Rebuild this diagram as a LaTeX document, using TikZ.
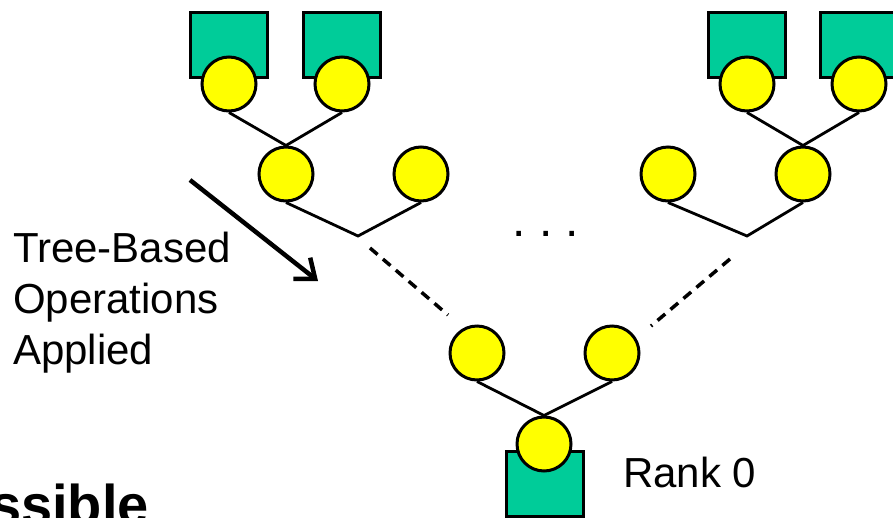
\documentclass[tikz,border=0pt]{standalone}
\usepackage{fontspec}
\setmainfont{Liberation Sans}
\usetikzlibrary{arrows.meta}
\definecolor{leafgreen}{RGB}{0,204,153}
\definecolor{procyellow}{RGB}{255,255,0}

\begin{document}
\begin{tikzpicture}[x=1pt,y=-1pt,
  proc/.style={circle, draw=black, line width=3pt, fill=procyellow,
               minimum size=54pt, inner sep=0pt},
  data/.style={rectangle, draw=black, line width=3pt, fill=leafgreen,
               minimum width=77pt, minimum height=65pt, inner sep=0pt},
  link/.style={draw=black, line width=2.8pt, line join=miter},
  farlink/.style={draw=black, line width=3.5pt, dash pattern=on 10pt off 7pt},
  label/.style={inner sep=0pt, font=\fontsize{42}{51}\selectfont},
  pointer/.style={draw=black, line width=4.5pt,
                  -{Straight Barb[length=17pt,width=27pt]}}]

\useasboundingbox (0,0) rectangle (893,517);
\clip (0,0) rectangle (893,517);
\fill[white] (0,0) rectangle (893,517);

% leaf data blocks
\node[data] (d1) at (229,45) {};
\node[data] (d2) at (342,45) {};
\node[data] (d3) at (747,45) {};
\node[data] (d4) at (859,45) {};
\node[data] (d0) at (544.5,484) {};

% leaf processes
\node[proc] (p1) at (229,84) {};
\node[proc] (p2) at (342,84) {};
\node[proc] (p3) at (747,84) {};
\node[proc] (p4) at (859,84) {};

% second level
\node[proc] (q1) at (286,174) {};
\node[proc] (q2) at (421,174) {};
\node[proc] (q3) at (668,174) {};
\node[proc] (q4) at (803,174) {};

% third level and root
\node[proc] (r1) at (477,353) {};
\node[proc] (r2) at (612,353) {};
\node[proc] (r0) at (544,444) {};

% joins
\coordinate (vL) at (358,236);
\coordinate (vR) at (747,236);

\draw[link] (p1.south) -- (q1.north) -- (p2.south);
\draw[link] (p3.south) -- (q4.north) -- (p4.south);
\draw[link] (q1.south) -- (vL) -- (q2.south);
\draw[link] (q3.south) -- (vR) -- (q4.south);
\draw[link] (r1.south) -- (r0.north) -- (r2.south);

% elided levels
\coordinate (eL1) at (370,248);
\coordinate (eL2) at (448,315);
\coordinate (eR1) at (730,259);
\coordinate (eR2) at (651,326);
\draw[farlink] (eL1) -- (eL2);
\draw[farlink] (eR1) -- (eR2);

\node[inner sep=0pt, anchor=base, font=\fontsize{48}{50}\selectfont] (dots) at (546,236) {.\ .\ .};

% annotation (base anchor sits on the last line)
\node[label, align=left, anchor=base west] (ops) at (13,364)
  {Tree-Based\\Operations\\Applied};
\coordinate (aS) at (190,180);
\coordinate (aE) at (318,281);
\draw[pointer] (aS) -- (aE);

\node[label, anchor=base west] (rank) at (623,487) {Rank 0};

\node[inner sep=0pt, anchor=base east, font=\bfseries\fontsize{56}{60}\selectfont] (word) at (149,524) {ssible};
\end{tikzpicture}
\end{document}
